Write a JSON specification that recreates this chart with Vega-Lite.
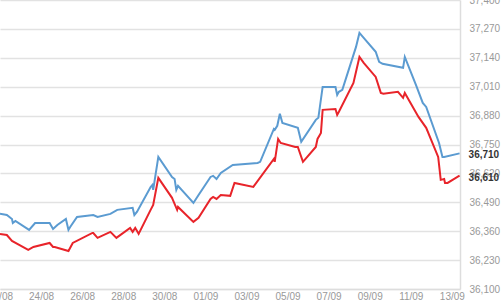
{
  "$schema": "https://vega.github.io/schema/vega-lite/v6.json",
  "width": 460,
  "height": 289,
  "autosize": {"type": "none"},
  "padding": {"left": 0, "top": 0, "right": 41, "bottom": 11},
  "background": "white",
  "config": {
    "view": {"stroke": null},
    "font": "Liberation Sans"
  },
  "datasets": {
    "rates": [
      {"date":"2013-08-22T00:00","series":"Sell","value":36438},
      {"date":"2013-08-22T08:00","series":"Sell","value":36433},
      {"date":"2013-08-22T14:00","series":"Sell","value":36415},
      {"date":"2013-08-22T15:00","series":"Sell","value":36397},
      {"date":"2013-08-22T18:00","series":"Sell","value":36406},
      {"date":"2013-08-23T10:00","series":"Sell","value":36366},
      {"date":"2013-08-23T17:00","series":"Sell","value":36397},
      {"date":"2013-08-24T10:00","series":"Sell","value":36397},
      {"date":"2013-08-24T14:00","series":"Sell","value":36370},
      {"date":"2013-08-24T19:00","series":"Sell","value":36388},
      {"date":"2013-08-25T05:00","series":"Sell","value":36415},
      {"date":"2013-08-25T08:00","series":"Sell","value":36366},
      {"date":"2013-08-25T10:00","series":"Sell","value":36379},
      {"date":"2013-08-25T18:00","series":"Sell","value":36424},
      {"date":"2013-08-26T13:00","series":"Sell","value":36433},
      {"date":"2013-08-26T18:00","series":"Sell","value":36424},
      {"date":"2013-08-27T09:00","series":"Sell","value":36438},
      {"date":"2013-08-27T17:00","series":"Sell","value":36456},
      {"date":"2013-08-28T11:00","series":"Sell","value":36465},
      {"date":"2013-08-28T13:00","series":"Sell","value":36433},
      {"date":"2013-08-28T16:00","series":"Sell","value":36447},
      {"date":"2013-08-29T08:00","series":"Sell","value":36559},
      {"date":"2013-08-29T10:00","series":"Sell","value":36568},
      {"date":"2013-08-29T11:00","series":"Sell","value":36546},
      {"date":"2013-08-29T17:00","series":"Sell","value":36694},
      {"date":"2013-08-30T09:00","series":"Sell","value":36604},
      {"date":"2013-08-30T12:00","series":"Sell","value":36595},
      {"date":"2013-08-30T14:00","series":"Sell","value":36546},
      {"date":"2013-08-30T16:00","series":"Sell","value":36564},
      {"date":"2013-08-31T10:00","series":"Sell","value":36487},
      {"date":"2013-08-31T16:00","series":"Sell","value":36523},
      {"date":"2013-09-01T06:00","series":"Sell","value":36604},
      {"date":"2013-09-01T09:00","series":"Sell","value":36609},
      {"date":"2013-09-01T13:00","series":"Sell","value":36595},
      {"date":"2013-09-01T18:00","series":"Sell","value":36622},
      {"date":"2013-09-02T08:00","series":"Sell","value":36658},
      {"date":"2013-09-03T13:00","series":"Sell","value":36667},
      {"date":"2013-09-03T16:00","series":"Sell","value":36672},
      {"date":"2013-09-04T08:00","series":"Sell","value":36820},
      {"date":"2013-09-04T09:00","series":"Sell","value":36816},
      {"date":"2013-09-04T12:00","series":"Sell","value":36834},
      {"date":"2013-09-04T15:00","series":"Sell","value":36888},
      {"date":"2013-09-04T18:00","series":"Sell","value":36847},
      {"date":"2013-09-05T12:00","series":"Sell","value":36825},
      {"date":"2013-09-05T16:00","series":"Sell","value":36762},
      {"date":"2013-09-06T09:00","series":"Sell","value":36861},
      {"date":"2013-09-06T12:00","series":"Sell","value":36870},
      {"date":"2013-09-06T17:00","series":"Sell","value":37009},
      {"date":"2013-09-07T08:00","series":"Sell","value":37009},
      {"date":"2013-09-07T10:00","series":"Sell","value":36973},
      {"date":"2013-09-07T12:00","series":"Sell","value":36987},
      {"date":"2013-09-07T16:00","series":"Sell","value":36996},
      {"date":"2013-09-08T08:00","series":"Sell","value":37189},
      {"date":"2013-09-08T12:00","series":"Sell","value":37252},
      {"date":"2013-09-08T17:00","series":"Sell","value":37230},
      {"date":"2013-09-09T07:00","series":"Sell","value":37167},
      {"date":"2013-09-09T11:00","series":"Sell","value":37122},
      {"date":"2013-09-09T15:00","series":"Sell","value":37113},
      {"date":"2013-09-10T15:00","series":"Sell","value":37095},
      {"date":"2013-09-10T17:00","series":"Sell","value":37144},
      {"date":"2013-09-11T06:00","series":"Sell","value":37018},
      {"date":"2013-09-11T14:00","series":"Sell","value":36937},
      {"date":"2013-09-11T18:00","series":"Sell","value":36919},
      {"date":"2013-09-12T09:00","series":"Sell","value":36757},
      {"date":"2013-09-12T13:00","series":"Sell","value":36694},
      {"date":"2013-09-12T15:00","series":"Sell","value":36694},
      {"date":"2013-09-13T09:00","series":"Sell","value":36710},
      {"date":"2013-08-22T00:00","series":"Buy","value":36348},
      {"date":"2013-08-22T08:00","series":"Buy","value":36343},
      {"date":"2013-08-22T14:00","series":"Buy","value":36316},
      {"date":"2013-08-23T09:00","series":"Buy","value":36276},
      {"date":"2013-08-23T15:00","series":"Buy","value":36289},
      {"date":"2013-08-24T10:00","series":"Buy","value":36307},
      {"date":"2013-08-24T14:00","series":"Buy","value":36289},
      {"date":"2013-08-24T16:00","series":"Buy","value":36289},
      {"date":"2013-08-25T08:00","series":"Buy","value":36271},
      {"date":"2013-08-25T13:00","series":"Buy","value":36307},
      {"date":"2013-08-26T12:00","series":"Buy","value":36352},
      {"date":"2013-08-26T13:00","series":"Buy","value":36352},
      {"date":"2013-08-26T18:00","series":"Buy","value":36330},
      {"date":"2013-08-27T09:00","series":"Buy","value":36357},
      {"date":"2013-08-27T16:00","series":"Buy","value":36330},
      {"date":"2013-08-28T08:00","series":"Buy","value":36375},
      {"date":"2013-08-28T11:00","series":"Buy","value":36357},
      {"date":"2013-08-28T14:00","series":"Buy","value":36375},
      {"date":"2013-08-28T18:00","series":"Buy","value":36348},
      {"date":"2013-08-29T08:00","series":"Buy","value":36456},
      {"date":"2013-08-29T11:00","series":"Buy","value":36478},
      {"date":"2013-08-29T17:00","series":"Buy","value":36600},
      {"date":"2013-08-30T09:00","series":"Buy","value":36510},
      {"date":"2013-08-30T10:00","series":"Buy","value":36501},
      {"date":"2013-08-30T15:00","series":"Buy","value":36456},
      {"date":"2013-08-30T16:00","series":"Buy","value":36469},
      {"date":"2013-08-31T10:00","series":"Buy","value":36402},
      {"date":"2013-08-31T16:00","series":"Buy","value":36420},
      {"date":"2013-09-01T06:00","series":"Buy","value":36505},
      {"date":"2013-09-01T09:00","series":"Buy","value":36514},
      {"date":"2013-09-01T13:00","series":"Buy","value":36505},
      {"date":"2013-09-01T18:00","series":"Buy","value":36523},
      {"date":"2013-09-02T05:00","series":"Buy","value":36519},
      {"date":"2013-09-02T10:00","series":"Buy","value":36577},
      {"date":"2013-09-03T08:00","series":"Buy","value":36559},
      {"date":"2013-09-04T08:00","series":"Buy","value":36685},
      {"date":"2013-09-04T09:00","series":"Buy","value":36672},
      {"date":"2013-09-04T13:00","series":"Buy","value":36775},
      {"date":"2013-09-04T16:00","series":"Buy","value":36757},
      {"date":"2013-09-05T09:00","series":"Buy","value":36739},
      {"date":"2013-09-05T12:00","series":"Buy","value":36739},
      {"date":"2013-09-05T18:00","series":"Buy","value":36672},
      {"date":"2013-09-06T09:00","series":"Buy","value":36739},
      {"date":"2013-09-06T11:00","series":"Buy","value":36775},
      {"date":"2013-09-06T15:00","series":"Buy","value":36802},
      {"date":"2013-09-06T17:00","series":"Buy","value":36906},
      {"date":"2013-09-07T08:00","series":"Buy","value":36910},
      {"date":"2013-09-07T10:00","series":"Buy","value":36883},
      {"date":"2013-09-07T12:00","series":"Buy","value":36897},
      {"date":"2013-09-08T05:00","series":"Buy","value":37027},
      {"date":"2013-09-08T12:00","series":"Buy","value":37144},
      {"date":"2013-09-08T17:00","series":"Buy","value":37117},
      {"date":"2013-09-09T07:00","series":"Buy","value":37054},
      {"date":"2013-09-09T13:00","series":"Buy","value":36982},
      {"date":"2013-09-09T16:00","series":"Buy","value":36978},
      {"date":"2013-09-10T09:00","series":"Buy","value":36987},
      {"date":"2013-09-10T15:00","series":"Buy","value":36960},
      {"date":"2013-09-10T17:00","series":"Buy","value":36982},
      {"date":"2013-09-11T09:00","series":"Buy","value":36874},
      {"date":"2013-09-11T18:00","series":"Buy","value":36825},
      {"date":"2013-09-12T08:00","series":"Buy","value":36694},
      {"date":"2013-09-12T11:00","series":"Buy","value":36591},
      {"date":"2013-09-12T15:00","series":"Buy","value":36595},
      {"date":"2013-09-12T16:00","series":"Buy","value":36577},
      {"date":"2013-09-12T19:00","series":"Buy","value":36577},
      {"date":"2013-09-13T09:00","series":"Buy","value":36610}
    ],
    "last": [
      {"date":"2013-09-13T09:00","series":"Sell","value":36710},
      {"date":"2013-09-13T09:00","series":"Buy","value":36610}
    ]
  },
  "encoding": {
    "x": {
      "field": "date", "type": "temporal",
      "scale": {"domain": [
        {"year": 2013, "month": "aug", "date": 22, "hours": 0},
        {"year": 2013, "month": "sep", "date": 13, "hours": 9, "minutes": 30}
      ]},
      "axis": {
        "orient": "bottom",
        "title": null,
        "format": "%d/%m",
        "values": [
          {"year": 2013, "month": "aug", "date": 22},
          {"year": 2013, "month": "aug", "date": 24},
          {"year": 2013, "month": "aug", "date": 26},
          {"year": 2013, "month": "aug", "date": 28},
          {"year": 2013, "month": "aug", "date": 30},
          {"year": 2013, "month": "sep", "date": 1},
          {"year": 2013, "month": "sep", "date": 3},
          {"year": 2013, "month": "sep", "date": 5},
          {"year": 2013, "month": "sep", "date": 7},
          {"year": 2013, "month": "sep", "date": 9},
          {"year": 2013, "month": "sep", "date": 11},
          {"year": 2013, "month": "sep", "date": 13}
        ],
        "grid": false,
        "ticks": false,
        "domain": true,
        "domainColor": "#dddddd",
        "domainWidth": 1.5,
        "labelColor": "#999999",
        "labelFontSize": 10,
        "labelPadding": 2,
        "labelOverlap": false,
        "labelFlush": false
      }
    },
    "y": {
      "field": "value", "type": "quantitative",
      "scale": {"domain": [36100, 37400], "nice": false, "zero": false},
      "axis": {
        "orient": "right",
        "title": null,
        "values": [36100, 36230, 36360, 36490, 36620, 36750, 36880, 37010, 37140, 37270, 37400],
        "format": ",d",
        "grid": true,
        "gridColor": "#e2e2e2",
        "gridWidth": 1.5,
        "ticks": false,
        "domain": true,
        "domainColor": "#dddddd",
        "domainWidth": 1.5,
        "labelColor": "#999999",
        "labelFontSize": 10,
        "labelPadding": 9,
        "labelOverlap": false,
        "labelFlush": false
      }
    }
  },
  "layer": [
    {
      "data": {"name": "rates"},
      "mark": {"type": "line", "strokeWidth": 2, "interpolate": "linear", "clip": true},
      "encoding": {
        "color": {
          "field": "series", "type": "nominal",
          "scale": {"domain": ["Sell", "Buy"], "range": ["#5b9bd1", "#e8242a"]},
          "legend": null
        }
      }
    },
    {
      "data": {"name": "last"},
      "mark": {"type": "text", "align": "left", "baseline": "middle", "dx": 9, "dy": 2, "fontWeight": "bold", "fontSize": 10, "color": "#333333"},
      "encoding": {
        "text": {"field": "value", "type": "quantitative", "format": ",d"}
      }
    }
  ]
}
